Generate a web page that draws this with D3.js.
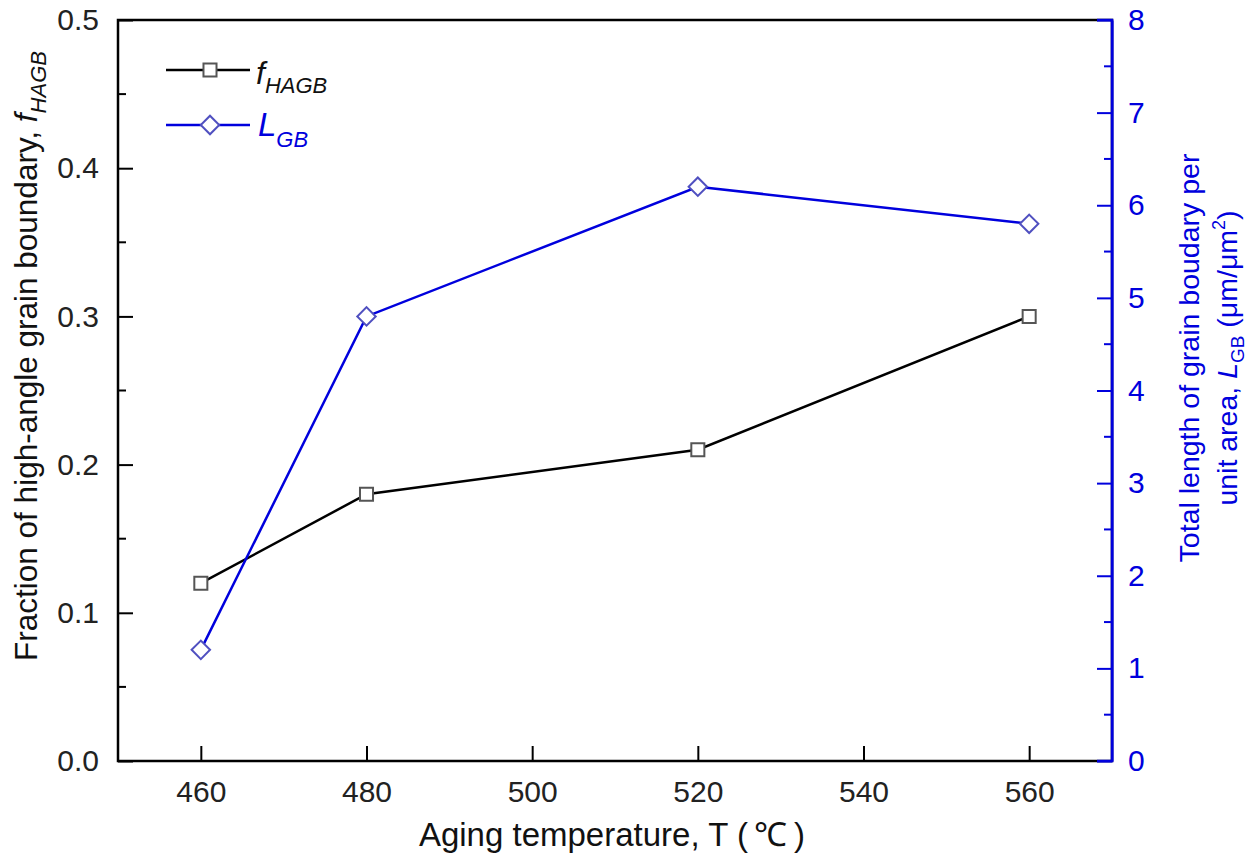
<!DOCTYPE html>
<meta charset="utf-8">
<style>
body { margin: 0; background: #fff; }
svg text { font-family: "Liberation Sans", Arial, sans-serif; }
.axis path, .axis line { stroke-width: 2px; }
.axis text { font-size: 30px; }
</style>
<body>
<script src="https://cdn.jsdelivr.net/npm/d3@7"></script>
<script>
var temps = [460, 480, 520, 560];
var fHAGB = [0.12, 0.18, 0.21, 0.30];
var LGB = [1.2, 4.8, 6.2, 5.8];
var xTicks = [460, 480, 500, 520, 540, 560];
var leftTicks = [0, 0.1, 0.2, 0.3, 0.4, 0.5];
var rightTicks = [0, 1, 2, 3, 4, 5, 6, 7, 8];

var width = 1257, height = 853;
var pl = 118, pr = 1112, pt = 20, pb = 761;
var blue = "#0000dd";

var x = d3.scaleLinear().domain([450, 570]).range([pl, pr]);
var yL = d3.scaleLinear().domain([0, 0.5]).range([pb, pt]);
var yR = d3.scaleLinear().domain([0, 8]).range([pb, pt]);

var svg = d3.select("body").append("svg")
    .attr("width", width)
    .attr("height", height);

// frame
svg.append("rect")
    .attr("x", pl).attr("y", pt)
    .attr("width", pr - pl).attr("height", pb - pt)
    .attr("fill", "none").attr("stroke", "#000").attr("stroke-width", 2.5);

// bottom axis, ticks inward
var gx = svg.append("g").attr("class", "axis")
    .attr("transform", "translate(0," + pb + ")")
    .call(d3.axisBottom(x).tickValues(xTicks).tickSizeInner(-15).tickSizeOuter(0).tickPadding(20));
gx.select(".domain").remove();
gx.selectAll("line").attr("stroke", "#000");
gx.selectAll("text").attr("fill", "#222");

// left axis
var gl = svg.append("g").attr("class", "axis")
    .attr("transform", "translate(" + pl + ",0)")
    .call(d3.axisLeft(yL).tickValues(leftTicks).tickFormat(d3.format(".1f")).tickSizeInner(-15).tickSizeOuter(0).tickPadding(19));
gl.select(".domain").remove();
gl.selectAll("line").attr("stroke", "#000");
gl.selectAll("text").attr("fill", "#222");
gl.append("g").selectAll("line")
    .data(d3.range(0.05, 0.5, 0.1))
  .enter().append("line")
    .attr("x1", 0).attr("x2", 8)
    .attr("y1", function(d) { return yL(d); }).attr("y2", function(d) { return yL(d); })
    .attr("stroke", "#000").attr("stroke-width", 2);

// right axis (blue)
var gr = svg.append("g").attr("class", "axis")
    .attr("transform", "translate(" + pr + ",0)")
    .call(d3.axisRight(yR).tickValues(rightTicks).tickSizeInner(-15).tickSizeOuter(0).tickPadding(16));
gr.select(".domain").attr("stroke", blue).attr("stroke-width", 2.5);
gr.selectAll("line").attr("stroke", blue);
gr.selectAll("text").attr("fill", blue);
gr.append("g").selectAll("line")
    .data(d3.range(0.5, 8, 1))
  .enter().append("line")
    .attr("x1", 0).attr("x2", -8)
    .attr("y1", function(d) { return yR(d); }).attr("y2", function(d) { return yR(d); })
    .attr("stroke", blue).attr("stroke-width", 2);
// blue corners of the frame
svg.append("path")
    .attr("d", "M" + (pr - 15) + "," + pt + "H" + pr + "V" + pb + "H" + (pr - 15))
    .attr("fill", "none").attr("stroke", blue).attr("stroke-width", 2.5);

// lines
var lineF = d3.line().x(function(d, i) { return x(temps[i]); }).y(function(d) { return yL(d); });
var lineL = d3.line().x(function(d, i) { return x(temps[i]); }).y(function(d) { return yR(d); });

svg.append("path").datum(fHAGB).attr("d", lineF)
    .attr("fill", "none").attr("stroke", "#000").attr("stroke-width", 2.5);
svg.append("path").datum(LGB).attr("d", lineL)
    .attr("fill", "none").attr("stroke", blue).attr("stroke-width", 2.5);

var sq = d3.symbol().type(d3.symbolSquare).size(170);
var dm = d3.symbol().type(d3.symbolSquare).size(170);

svg.append("g").selectAll("path")
    .data(fHAGB)
  .enter().append("path")
    .attr("d", sq)
    .attr("transform", function(d, i) { return "translate(" + x(temps[i]) + "," + yL(d) + ")"; })
    .attr("fill", "#fff").attr("stroke", "#555").attr("stroke-width", 2);

svg.append("g").selectAll("path")
    .data(LGB)
  .enter().append("path")
    .attr("d", dm)
    .attr("transform", function(d, i) { return "translate(" + x(temps[i]) + "," + yR(d) + ")rotate(45)"; })
    .attr("fill", "#fff").attr("stroke", "#5050c0").attr("stroke-width", 2);

// legend
var lg = svg.append("g");
lg.append("line").attr("x1", 166).attr("x2", 250).attr("y1", 70).attr("y2", 70)
    .attr("stroke", "#000").attr("stroke-width", 2.5);
lg.append("path").attr("d", sq).attr("transform", "translate(210,70)")
    .attr("fill", "#fff").attr("stroke", "#555").attr("stroke-width", 2);
lg.append("line").attr("x1", 166).attr("x2", 250).attr("y1", 125).attr("y2", 125)
    .attr("stroke", blue).attr("stroke-width", 2.5);
lg.append("path").attr("d", dm).attr("transform", "translate(210,125)rotate(45)")
    .attr("fill", "#fff").attr("stroke", "#5050c0").attr("stroke-width", 2);

var t1 = lg.append("text").attr("x", 256).attr("y", 84).attr("font-size", 32).attr("font-style", "italic").attr("fill", "#111");
t1.append("tspan").text("f");
t1.append("tspan").attr("dy", 9).attr("font-size", 22).text("HAGB");
var t2 = lg.append("text").attr("x", 258).attr("y", 136).attr("font-size", 33).attr("font-style", "italic").attr("fill", blue);
t2.append("tspan").text("L");
t2.append("tspan").attr("dy", 11).attr("font-size", 22).text("GB");

// axis titles
svg.append("text")
    .attr("x", 612).attr("y", 846)
    .attr("text-anchor", "middle").attr("font-size", 33).attr("fill", "#111")
    .text("Aging temperature, T (\u2009℃\u2009)");

var yt = svg.append("text")
    .attr("transform", "translate(37,356)rotate(-90)")
    .attr("text-anchor", "middle").attr("font-size", 31.5).attr("fill", "#111");
yt.append("tspan").text("Fraction of high-angle grain boundary, ");
yt.append("tspan").attr("font-style", "italic").text("f");
yt.append("tspan").attr("font-style", "italic").attr("font-size", 22).attr("dy", 9).text("HAGB");

var rt = svg.append("g").attr("transform", "translate(1199,358)rotate(-90)");
rt.append("text").attr("text-anchor", "middle").attr("font-size", 28.5).attr("fill", blue)
    .text("Total length of grain boudary per");
var rt2 = rt.append("text").attr("y", 38).attr("text-anchor", "middle").attr("font-size", 28.5).attr("fill", blue);
rt2.append("tspan").text("unit area, ");
rt2.append("tspan").attr("font-style", "italic").text("L");
rt2.append("tspan").attr("font-size", 19).attr("dy", 7).text("GB");
rt2.append("tspan").attr("dy", -7).text(" (μm/μm");
rt2.append("tspan").attr("font-size", 18).attr("dy", -12).text("2");
rt2.append("tspan").attr("dy", 12).text(")");
</script>
</body>
